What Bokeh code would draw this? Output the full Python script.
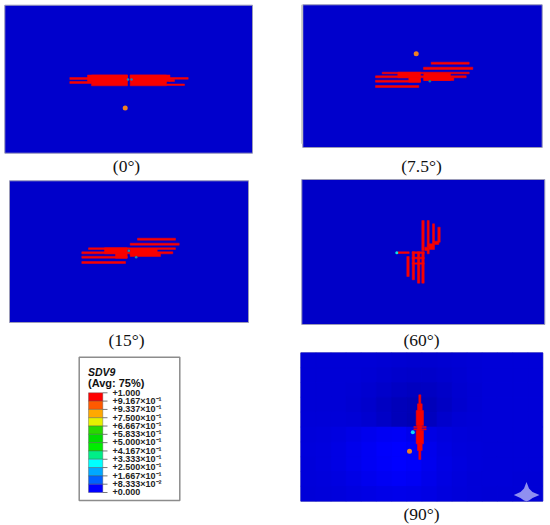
from bokeh.plotting import figure
from bokeh.embed import file_html
from bokeh.resources import INLINE
from bokeh.models import Range1d
from bokeh.core.properties import value

RED = "#f80000"

# panel frames: left, right, top, bottom
panel_names = ["0", "7.5", "15", "60", "90"]
panel_left = [4.3, 302.3, 9, 301.3, 300.3]
panel_right = [252, 541.7, 248, 544.3, 542.3]
panel_top = [4.7, 4.3, 180.3, 179, 352.3]
panel_bottom = [152.7, 147, 322, 324, 500.7]
panel_fill = ["#0000cc", "#0000cc", "#0000ca", "#0000c8", "#0000d8"]

captions = ["(0°)", "(7.5°)", "(15°)", "(60°)", "(90°)"]
caption_x = [126, 421, 126, 421, 421]
caption_y = [165, 165, 339, 339, 513]

# damaged (red) regions: x0, x1, y0, y1
red_0 = [(69.3, 88, 77, 79), (69.3, 91, 81, 83), (87, 127, 74.5, 81), (91, 127, 74.5, 85.3),
         (129.7, 169.5, 74.5, 81), (129.7, 166, 74.5, 85.3), (169, 187.7, 77, 78.7),
         (166, 184, 83.5, 85), (169, 174, 79, 81)]
red_7 = [(430.7, 468.7, 61.7, 63.7), (423, 472.3, 66.7, 69), (381.7, 468.7, 71.7, 73.3),
         (375, 465.7, 75.3, 77.3), (375, 420, 79.7, 81.7), (375, 418.3, 85, 87),
         (397.3, 420, 71.7, 77.3), (408.3, 420, 77.3, 81.7), (423.3, 450, 72.7, 80), (423.3, 453.3, 77.3, 80)]
red_15 = [(137, 175, 237.7, 239.7), (129.7, 178.7, 242.7, 244.7), (88, 175, 247.3, 249),
          (81.3, 172.3, 251.3, 253.3), (81.3, 126.7, 255.7, 257.7), (81.3, 125, 261, 263),
          (104, 126.7, 247.3, 253.3), (115, 126.7, 253.3, 257.7), (129.7, 156.7, 248.3, 254.3),
          (129.7, 160, 253.3, 256)]
red_60 = [(421.3, 423.7, 220, 250), (426.7, 428.7, 220, 246.7), (432, 434, 223.3, 243.3),
          (437.3, 439.7, 226.7, 241.7), (406.3, 408.7, 256, 276), (411.7, 414, 251.3, 279.3),
          (417, 419.3, 251.3, 282.7), (421.3, 423.7, 251.3, 282.7), (397.3, 408.7, 251.3, 253),
          (411.7, 423.7, 251.3, 253), (411.7, 423.7, 256.7, 258.3), (411.7, 423.7, 262.3, 263.7),
          (428.3, 434, 243.3, 249), (434, 438.3, 240.7, 244), (424.3, 428.3, 246.7, 250),
          (426.7, 428.7, 249, 253.3)]
red_90 = [(418.3, 420.3, 394.3, 403.3), (417, 421.7, 403.3, 410), (415.7, 423, 410, 425),
          (413.3, 425.7, 426, 427), (413.3, 425.7, 428.3, 429.3), (417, 421, 425, 430),
          (415.7, 423, 430, 443.3), (417, 421.7, 443.3, 450), (418.3, 420.3, 450, 459)]
red_all = red_0 + red_7 + red_15 + red_60 + red_90

# small marks: x, y, size, colour
dot_x = [124.7, 415.7, 409, 429.3, 135.7, 128.3, 396.3, 412.3, 127.5, 131]
dot_y = [107.5, 53.3, 450.7, 80.7, 256.7, 250.3, 252.3, 431.7, 79, 79]
dot_size = [5, 5, 5, 2.5, 2.5, 2.5, 3, 4, 2.5, 2.5]
dot_color = ["#f08020", "#f08020", "#f08020", "#108088", "#2090b0", "#2090b0", "#10e0e0", "#10d8f0",
             "#2080c0", "#2080c0"]

# blue level across the 90° panel (top row first), read by eye
glow = [
    [214, 214, 214, 214, 214, 212, 210, 208, 208, 210, 212, 214, 216, 216, 216, 216],
    [214, 214, 214, 214, 212, 208, 204, 202, 202, 206, 210, 214, 216, 216, 216, 216],
    [214, 214, 214, 212, 208, 202, 196, 192, 194, 200, 208, 212, 216, 216, 216, 216],
    [214, 214, 214, 210, 204, 194, 186, 182, 186, 196, 206, 212, 216, 216, 216, 216],
    [216, 216, 216, 214, 208, 198, 186, 180, 190, 204, 212, 214, 216, 216, 216, 216],
    [218, 220, 224, 230, 238, 244, 246, 236, 228, 222, 218, 216, 216, 216, 216, 216],
    [220, 222, 228, 236, 244, 252, 255, 248, 236, 226, 220, 218, 216, 216, 216, 216],
    [218, 222, 228, 236, 244, 250, 255, 250, 238, 228, 222, 218, 216, 216, 216, 216],
    [218, 220, 224, 230, 238, 244, 248, 244, 234, 226, 220, 216, 216, 216, 214, 214],
    [216, 218, 220, 224, 228, 232, 234, 232, 228, 222, 218, 216, 214, 214, 214, 214],
]

# sparkle mark over the 90° panel
star_x = [526, 528.5, 532, 539, 532, 528.5, 526, 523.5, 520, 513.3, 520, 523.5]
star_y = [481.5, 488, 491.5, 494.5, 497.5, 500, 500.7, 500, 497.5, 494.5, 491.5, 488]

# legend
legend_labels = ["+1.000", "+9.167×10⁻¹", "+9.337×10⁻¹", "+7.500×10⁻¹", "+6.667×10⁻¹", "+5.833×10⁻¹",
                 "+5.000×10⁻¹", "+4.167×10⁻¹", "+3.333×10⁻¹", "+2.500×10⁻¹", "+1.667×10⁻¹",
                 "+8.333×10⁻²", "+0.000"]
legend_colors = ["#ff0000", "#ff5a00", "#ffa800", "#e6f000", "#28d800", "#00dc00", "#00ee00", "#00ee88",
                 "#00ffff", "#00a8ff", "#0060ff", "#0000ff"]
legend_title = ["SDV9", "(Avg: 75%)"]

p = figure(width=550, height=525, output_backend="svg", toolbar_location=None,
           x_range=Range1d(0, 550), y_range=Range1d(525, 0), min_border=0,
           outline_line_color=None, background_fill_color="white", border_fill_color="white")
p.axis.visible = False
p.grid.visible = False

# panel backgrounds
p.quad(left=panel_left, right=panel_right, top=panel_top, bottom=panel_bottom,
       fill_color=panel_fill, line_color="#9a9ab8", line_width=1)
p.quad(left=[300.7], right=[302.3], top=[4.3], bottom=[143.3], fill_color="#c4c4c4", line_color=None)

# glow in the 90° panel
rows, cols = len(glow), len(glow[0])
L, R, T, B = panel_left[4], panel_right[4], panel_top[4], panel_bottom[4]
gl, gr, gt, gb, gc = [], [], [], [], []
for j, row in enumerate(glow):
    for i, b in enumerate(row):
        gl.append(L + (R - L) * i / cols)
        gr.append(L + (R - L) * (i + 1) / cols)
        gt.append(T + (B - T) * j / rows)
        gb.append(T + (B - T) * (j + 1) / rows)
        gc.append("#0000%02x" % b)
p.quad(left=gl, right=gr, top=gt, bottom=gb, fill_color=gc, line_color=gc, line_width=0.5)

# red regions
p.quad(left=[r[0] for r in red_all], right=[r[1] for r in red_all],
       top=[r[2] for r in red_all], bottom=[r[3] for r in red_all],
       fill_color=RED, line_color=RED, line_width=0.5)
p.scatter(dot_x, dot_y, size=dot_size, fill_color=dot_color, line_color=None)
p.patch(star_x, star_y, fill_color="#8f8ff0", line_color=None)

# captions
p.text(caption_x, caption_y, text=captions, text_font=value("Liberation Serif"), text_font_size="17.5px",
       text_align="center", text_baseline="middle", text_color="#111111")

# legend
p.quad(left=[78.7], right=[179.3], top=[356.7], bottom=[500], fill_color="white",
       line_color="#8c8c8c", line_width=1.5)
p.text([87.5], [371], text=[legend_title[0]], text_font=value("Liberation Sans"), text_font_size="10.5px",
       text_font_style="bold italic", text_baseline="middle", text_color="#111111")
p.text([87.5], [382.3], text=[legend_title[1]], text_font=value("Liberation Sans"), text_font_size="11px",
       text_font_style="bold", text_baseline="middle", text_color="#111111")
n = len(legend_colors)
y0, y1 = 392.3, 492.0
ys = [y0 + (y1 - y0) * i / n for i in range(n + 1)]
p.quad(left=[88] * n, right=[102.3] * n, top=ys[:-1], bottom=ys[1:], fill_color=legend_colors,
       line_color="#555555", line_width=0.4)
p.segment([102.3] * (n + 1), ys, [107] * (n + 1), ys, line_color="#555555", line_width=0.8)
p.text([112] * (n + 1), [y - 0.2 for y in ys], text=legend_labels, text_font=value("Liberation Sans"),
       text_font_size="9px", text_font_style="bold", text_baseline="middle", text_color="#222222")

open("out.html", "w").write(file_html(p, INLINE))
